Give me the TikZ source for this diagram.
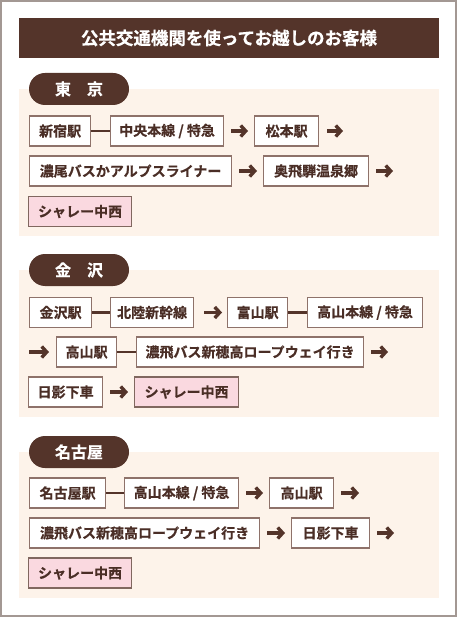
\documentclass[tikz,border=0pt]{standalone}
\usepackage{fontspec}
\setmainfont{Noto Sans CJK JP}[BoldFont={Noto Sans CJK JP Bold}, BoldFeatures={FakeBold=0.5}]
\usetikzlibrary{arrows.meta}
\definecolor{dbrown}{HTML}{54342A}
\definecolor{tbrown}{HTML}{4A2E26}
\definecolor{bgcream}{HTML}{FDF3EA}
\definecolor{boxline}{HTML}{8E726A}
\definecolor{pinkfill}{HTML}{FAD9E0}
\definecolor{outer}{HTML}{A39893}
\tikzset{
  box/.style={draw=boxline, line width=1.2pt, fill=white, anchor=west, minimum height=30pt, inner sep=0pt,
    text=tbrown, font=\bfseries\fontsize{14}{14}\selectfont},
  goal/.style={box, fill=pinkfill, draw=boxline!90!black},
  pill/.style={fill=dbrown, rounded corners=16pt, minimum width=100pt, minimum height=32pt, inner sep=0pt,
    text=white, font=\bfseries\fontsize{16}{16}\selectfont},
  link/.style={draw=dbrown, line width=2.4pt},
  arr/.style={draw=dbrown, line width=3.4pt, -{Straight Barb[length=5pt,width=11pt]}, shorten <=7pt, shorten >=6pt},
  section/.style={fill=bgcream}
}
\begin{document}
\begin{tikzpicture}[x=1pt,y=-1pt]
\useasboundingbox (0,0) rectangle (457,617);
\draw[outer, line width=2pt] (1,1) rectangle (456,616);
% title
\node[fill=dbrown, minimum width=420pt, minimum height=40pt, inner sep=0pt, text=white,
  font=\bfseries\fontsize{17.5}{17.5}\selectfont] (title) at (229,38) {公共交通機関を使ってお越しのお客様};
% sections backgrounds
\fill[section] (19,89) rectangle (439,236);
\fill[section] (19,270) rectangle (439,417);
\fill[section] (19,452) rectangle (439,598);
% pills
\node[pill] (ptokyo) at (79,89) {東　京};
\node[pill] (pkana) at (79,270) {金　沢};
\node[pill] (pnago) at (79,452) {名古屋};
% Tokyo
\node[box, minimum width=61pt] (t1) at (29,131) {新宿駅};
\node[box, minimum width=113pt] (t2) at (110,131) {中央本線 / 特急};
\node[box, minimum width=64pt] (t3) at (254,131) {松本駅};
\coordinate (t3x) at (343,131);
\node[box, minimum width=202pt] (t4) at (29,171) {濃尾バスかアルプスライナー};
\node[box, minimum width=105pt] (t5) at (263,171) {奥飛騨温泉郷};
\coordinate (t5x) at (393,171);
\node[goal, minimum width=103pt] (t6) at (28,211.5) {シャレー中西};
\draw[link] (t1.east) -- (t2.west);
\draw[arr] (t2.east) -- (t3.west);
\draw[arr, shorten >=0pt, shorten <=8pt] (t3.east) -- (t3x);
\draw[arr] (t4.east) -- (t5.west);
\draw[arr, shorten >=0pt] (t5.east) -- (t5x);
% Kanazawa
\node[box, minimum width=62pt] (k1) at (29,312.5) {金沢駅};
\node[box, minimum width=83pt] (k2) at (110,312.5) {北陸新幹線};
\node[box, minimum width=60pt] (k3) at (227,312.5) {富山駅};
\node[box, minimum width=115pt] (k4) at (307,312.5) {高山本線 / 特急};
\coordinate (k5s) at (29,352);
\node[box, minimum width=60pt] (k5) at (56,352) {高山駅};
\node[box, minimum width=227pt] (k6) at (136,352) {濃飛バス新穂高ロープウェイ行き};
\coordinate (k6x) at (388,352);
\node[box, minimum width=74pt] (k7) at (28,392) {日影下車};
\node[goal, minimum width=104pt] (k8) at (134,392) {シャレー中西};
\draw[link] (k1.east) -- (k2.west);
\draw[arr, shorten <=10pt, shorten >=5pt] (k2.east) -- (k3.west);
\draw[link] (k3.east) -- (k4.west);
\draw[arr, shorten <=0pt, shorten >=7pt] (k5s) -- (k5.west);
\draw[link] (k5.east) -- (k6.west);
\draw[arr, shorten >=0pt] (k6.east) -- (k6x);
\draw[arr] (k7.east) -- (k8.west);
% Nagoya
\node[box, minimum width=76pt] (n1) at (29,493) {名古屋駅};
\node[box, minimum width=114pt] (n2) at (124,493) {高山本線 / 特急};
\node[box, minimum width=64pt] (n3) at (269,493) {高山駅};
\coordinate (n3x) at (359,493);
\node[box, minimum width=230pt] (n4) at (29,533) {濃飛バス新穂高ロープウェイ行き};
\node[box, minimum width=78pt] (n5) at (291,533) {日影下車};
\coordinate (n5x) at (394,533);
\node[goal, minimum width=103pt] (n6) at (28,573) {シャレー中西};
\draw[link] (n1.east) -- (n2.west);
\draw[arr] (n2.east) -- (n3.west);
\draw[arr, shorten >=0pt] (n3.east) -- (n3x);
\draw[arr] (n4.east) -- (n5.west);
\draw[arr, shorten >=0pt] (n5.east) -- (n5x);
\end{tikzpicture}
\end{document}
